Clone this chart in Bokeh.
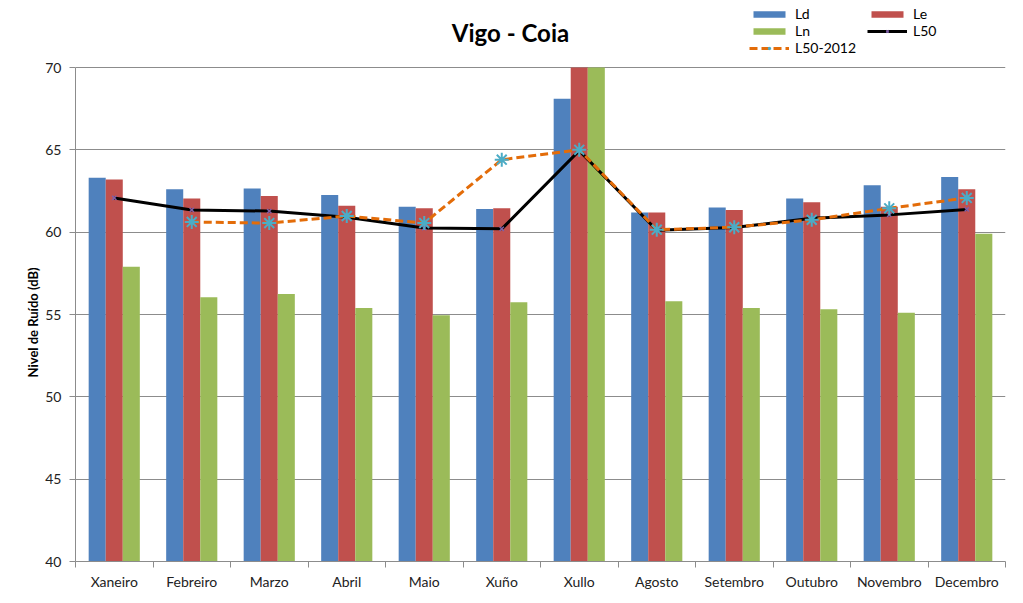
import numpy as np
from bokeh.plotting import figure
from bokeh.models import Range1d, FixedTicker, Legend, LegendItem, Label, Title
from bokeh.embed import file_html
from bokeh.resources import INLINE

months = ["Xaneiro", "Febreiro", "Marzo", "Abril", "Maio", "Xuño", "Xullo",
          "Agosto", "Setembro", "Outubro", "Novembro", "Decembro"]
Ld = [63.3, 62.6, 62.65, 62.25, 61.55, 61.4, 68.1, 61.2, 61.5, 62.05, 62.85, 63.35]
Le = [63.2, 62.05, 62.2, 61.6, 61.45, 61.45, 71.5, 61.2, 61.35, 61.82, 61.55, 62.6]
Ln = [57.9, 56.05, 56.25, 55.4, 54.95, 55.75, 71.0, 55.8, 55.4, 55.32, 55.1, 59.9]
L50 = [62.08, 61.35, 61.28, 60.9, 60.25, 60.2, 64.95, 60.12, 60.28, 60.85, 61.05, 61.38]
L50_2012 = [np.nan, 60.62, 60.55, 60.98, 60.55, 64.4, 65.0, 60.15, 60.3, 60.75, 61.45, 62.08]
yticks = [40, 45, 50, 55, 60, 65, 70]
Y_MIN, Y_MAX = 40, 70

FONT = "Lato"
x = np.arange(1, len(months) + 1)
bw = 0.22

W, H = 1015, 595
F_LEFT, F_RIGHT, F_TOP, F_BOTTOM = 75, 1005, 67, 561
px_per_db = (F_BOTTOM - F_TOP) / (Y_MAX - Y_MIN)
y_top = Y_MIN + F_BOTTOM / px_per_db  # frame extends to canvas top

p = figure(width=W, height=H, output_backend="svg", toolbar_location=None,
           x_range=Range1d(0.5, 12.5), y_range=Range1d(Y_MIN, y_top),
           min_border_left=F_LEFT, min_border_right=W - F_RIGHT,
           min_border_top=0, min_border_bottom=H - F_BOTTOM)
p.outline_line_color = None
p.background_fill_color = "white"
p.border_fill_color = "white"

# bars are cut at the top of the value axis, as in the reference
clip = lambda v: np.minimum(np.array(v, dtype=float), Y_MAX)
r_ld = p.vbar(x=x - bw, top=clip(Ld), bottom=Y_MIN, width=bw, fill_color="#4F81BD", line_color=None)
r_le = p.vbar(x=x, top=clip(Le), bottom=Y_MIN, width=bw, fill_color="#C0504D", line_color=None)
r_ln = p.vbar(x=x + bw, top=clip(Ln), bottom=Y_MIN, width=bw, fill_color="#9BBB59", line_color=None)

r_l50 = p.line(x, L50, line_color="black", line_width=3)
r_l50m = p.scatter(x, L50, marker="x", size=6, line_color="#7F5FA8", line_width=1.5)
r_l12 = p.line(x, L50_2012, line_color="#E36C09", line_width=3, line_dash="8 4")
r_l12m = p.scatter(x, L50_2012, marker="asterisk", size=14, line_color="#4BACC6", line_width=2)

# axes
p.xgrid.visible = False
p.ygrid.grid_line_color = "#8C8C8C"
p.ygrid.grid_line_width = 1
p.yaxis.ticker = FixedTicker(ticks=yticks, minor_ticks=[])
p.yaxis.bounds = (Y_MIN, Y_MAX)
p.yaxis.axis_line_color = "#8C8C8C"
p.yaxis.major_tick_line_color = "#8C8C8C"
p.yaxis.major_tick_out = 6
p.yaxis.major_tick_in = 0
p.yaxis.major_label_text_font = FONT
p.yaxis.major_label_text_font_size = "14px"
p.yaxis.major_label_text_color = "#222222"
p.yaxis.major_label_standoff = 8

# value-axis title, centred on the 40-70 span (text starts ~184px above frame bottom)
ytitle = Title(text="Nivel de Ruído (dB)", align="left", offset=184,
               text_font=FONT, text_font_size="13px", text_font_style="bold",
               text_color="black", standoff=4)
p.add_layout(ytitle, "left")

bounds = [i + 0.5 for i in range(0, 13)]
p.xaxis.ticker = FixedTicker(ticks=list(x), minor_ticks=bounds)
p.xaxis.major_label_overrides = {int(i): m for i, m in zip(x, months)}
p.xaxis.major_tick_line_color = None
p.xaxis.minor_tick_line_color = "#8C8C8C"
p.xaxis.minor_tick_out = 6
p.xaxis.minor_tick_in = 0
p.xaxis.axis_line_color = "#8C8C8C"
p.xaxis.major_label_text_font = FONT
p.xaxis.major_label_text_font_size = "14px"
p.xaxis.major_label_text_color = "#222222"
p.xaxis.major_label_standoff = 5

# chart title (inside the frame area above the 70 dB line)
p.add_layout(Label(x=6.113, y=72.13, text="Vigo - Coia", text_align="center",
                   text_baseline="alphabetic", text_font=FONT, text_font_size="24px",
                   text_font_style="bold", text_color="black"))

legend = Legend(items=[
    LegendItem(label="Ld", renderers=[r_ld]),
    LegendItem(label="Le", renderers=[r_le]),
    LegendItem(label="Ln", renderers=[r_ln]),
    LegendItem(label="L50", renderers=[r_l50, r_l50m]),
    LegendItem(label="L50-2012", renderers=[r_l12, r_l12m]),
], location=(674, 505), ncols=2, orientation="horizontal")
legend.border_line_color = None
legend.background_fill_alpha = 0
legend.glyph_width = 40
legend.glyph_height = 8
legend.label_height = 16
legend.label_width = 72
legend.label_standoff = 6
legend.spacing = 0
legend.padding = 4
legend.margin = 0
legend.label_text_font = FONT
legend.label_text_font_size = "14px"
legend.label_text_color = "black"
p.add_layout(legend, "center")

open("out.html", "w").write(file_html(p, INLINE))
